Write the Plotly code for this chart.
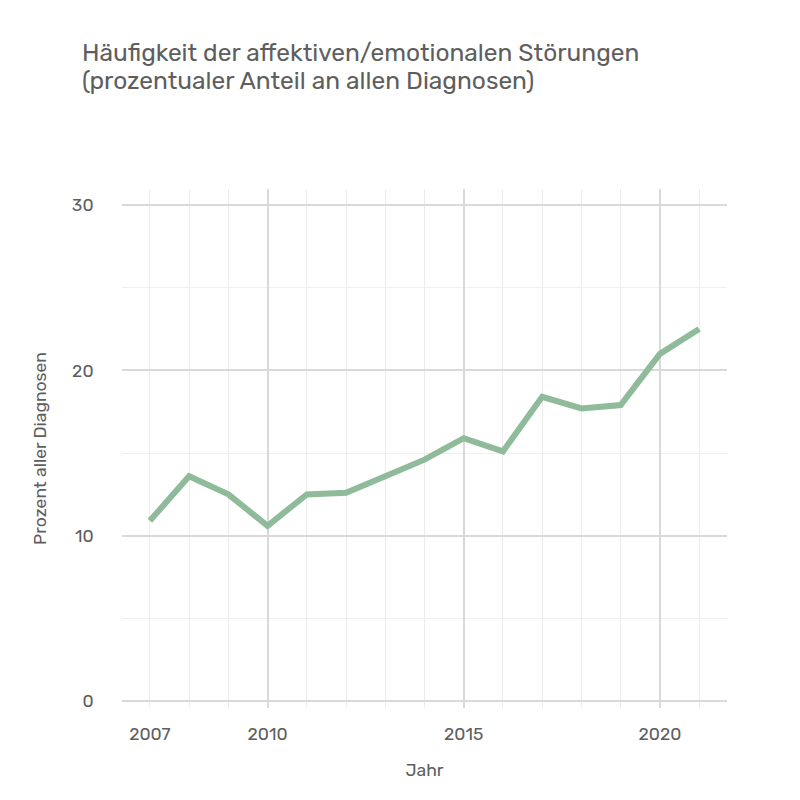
import plotly.graph_objects as go

years = [2007, 2008, 2009, 2010, 2011, 2012, 2013, 2014, 2015, 2016, 2017, 2018, 2019, 2020, 2021]
percent = [10.9, 13.6, 12.5, 10.6, 12.5, 12.6, 13.6, 14.6, 15.9, 15.1, 18.4, 17.7, 17.9, 21.0, 22.5]
x_tick_vals = [2007, 2010, 2015, 2020]
x_major_grid = [2010, 2015, 2020]
y_tick_vals = [0, 10, 20, 30]
title_lines = ["Häufigkeit der affektiven/emotionalen Störungen",
               "(prozentualer Anteil an allen Diagnosen)"]

FONT = "Rubik, Inter, 'Open Sans', sans-serif"
TXT = "#5e5e5e"
x_range = [2006.29, 2021.71]
y_range = [-0.42, 30.97]

fig = go.Figure()
fig.add_trace(go.Scatter(x=years, y=percent, mode="lines",
                         line=dict(color="#8fbb9a", width=6), hoverinfo="x+y"))
# invisible trace to activate overlay axis for major vertical gridlines
fig.add_trace(go.Scatter(x=[years[0]], y=[percent[0]], xaxis="x2", mode="markers",
                         marker=dict(opacity=0), showlegend=False, hoverinfo="skip"))

for i, line in enumerate(title_lines):
    fig.add_annotation(text=line, xref="paper", yref="paper", x=(80 - 122) / 605,
                       y=1 + (189 - 52 - 29 * i) / 519, xanchor="left", yanchor="middle",
                       showarrow=False, font=dict(family=FONT, size=24.5, color=TXT))

fig.update_layout(
    width=800, height=800,
    paper_bgcolor="white", plot_bgcolor="white",
    margin=dict(l=122, r=73, t=189, b=92),
    showlegend=False,
    font=dict(family=FONT, color=TXT, size=18),
    xaxis=dict(range=x_range, tickvals=x_tick_vals, showgrid=True, gridcolor="#ececec", gridwidth=1,
               minor=dict(dtick=1, tick0=2007, showgrid=True, gridcolor="#ececec", gridwidth=1),
               zeroline=False, showline=False, ticks="outside", ticklen=10, tickcolor="rgba(0,0,0,0)",
               tickfont=dict(size=17.5, color=TXT),
               title=dict(text="Jahr", standoff=20, font=dict(size=17.5, color=TXT))),
    xaxis2=dict(range=x_range, overlaying="x", tickvals=x_major_grid, showticklabels=False,
                showgrid=True, gridcolor="#d9d9d9", gridwidth=2, zeroline=False, ticks=""),
    yaxis=dict(range=y_range, tickvals=y_tick_vals, showgrid=True, gridcolor="#d9d9d9", gridwidth=1.5,
               minor=dict(dtick=5, tick0=0, showgrid=True, gridcolor="#efefef", gridwidth=1),
               zeroline=False, showline=False, ticks="outside", ticklen=24, tickcolor="rgba(0,0,0,0)",
               tickfont=dict(size=17.5, color=TXT),
               title=dict(text="Prozent aller Diagnosen", standoff=20, font=dict(size=17.5, color=TXT))),
)
fig.write_html("out.html")
